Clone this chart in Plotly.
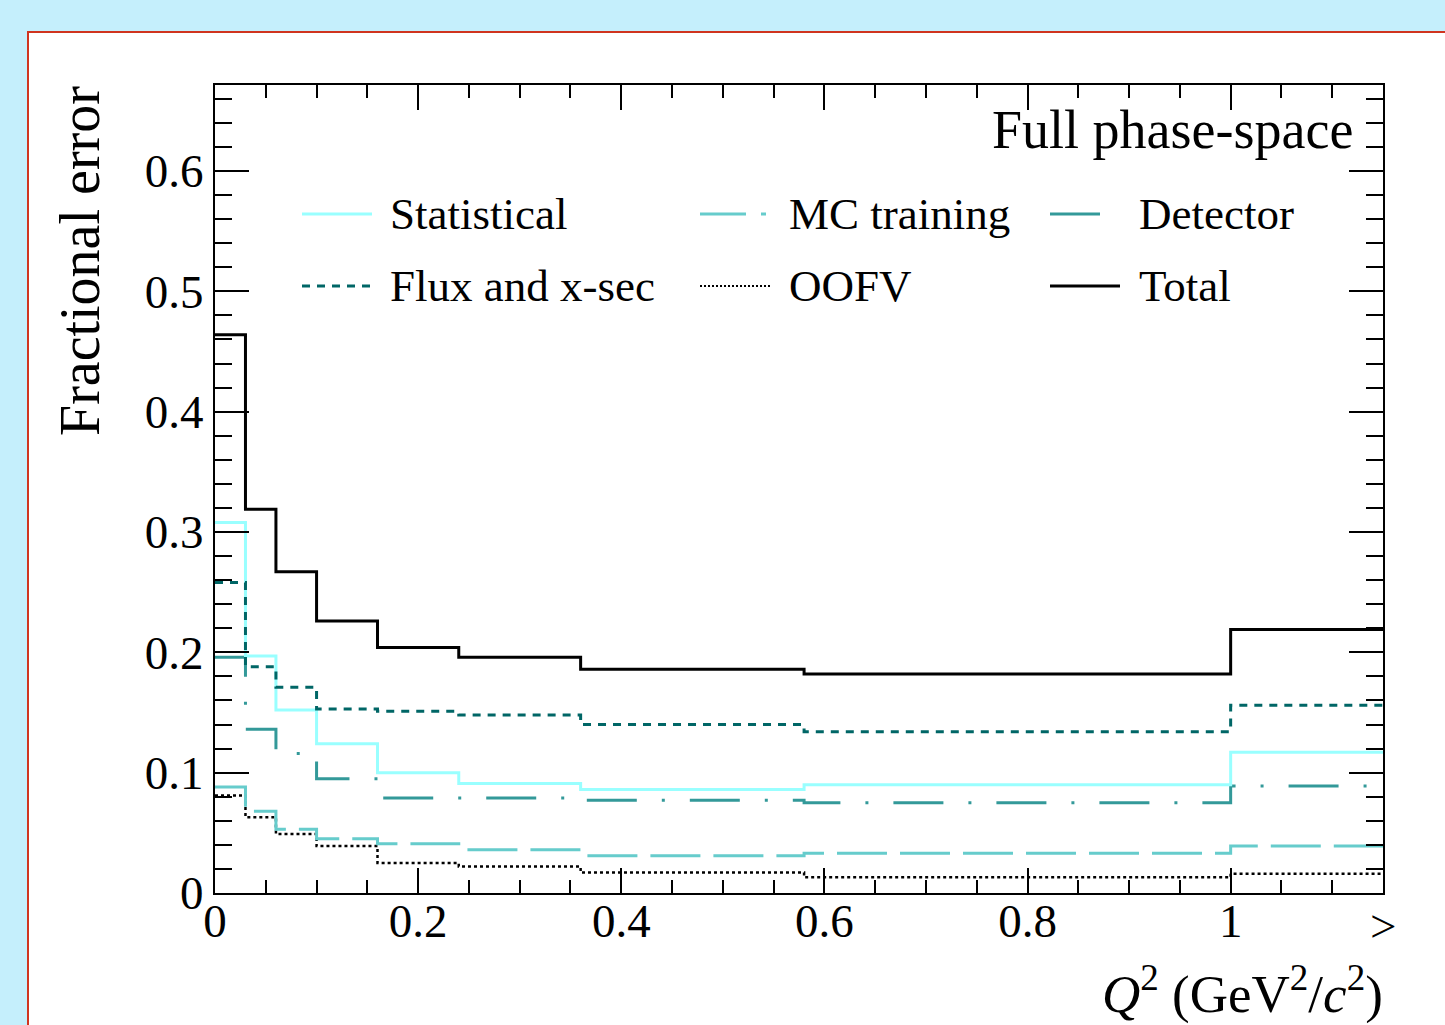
import plotly.graph_objects as go

# ---- data ----
bin_edges = [0.0, 0.03, 0.06, 0.10, 0.16, 0.24, 0.36, 0.58, 1.00, 1.15]
total       = [0.464, 0.319, 0.267, 0.226, 0.204, 0.196, 0.186, 0.182, 0.219]
statistical = [0.308, 0.197, 0.152, 0.124, 0.100, 0.091, 0.086, 0.090, 0.117]
flux_xsec   = [0.258, 0.188, 0.171, 0.153, 0.151, 0.148, 0.140, 0.134, 0.156]
detector    = [0.196, 0.136, 0.116, 0.095, 0.079, 0.079, 0.077, 0.075, 0.089]
mc_training = [0.088, 0.068, 0.053, 0.045, 0.041, 0.036, 0.031, 0.033, 0.039]
oofv        = [0.081, 0.063, 0.049, 0.039, 0.025, 0.022, 0.017, 0.013, 0.016]

legend_labels = ["Statistical", "MC training", "Detector", "Flux and x-sec", "OOFV", "Total"]

FONT = "Liberation Serif"

# plot-area pixel geometry
L, R, T, B = 215, 1383, 85, 893
W, H = 1445, 1025
def px(x):
    return (x - L) / (R - L)
def py(y):
    return (B - y) / (B - T)

fig = go.Figure()

def step(vals, color, width, dash):
    fig.add_trace(go.Scatter(
        x=bin_edges, y=vals + [vals[-1]], mode="lines", line_shape="hv",
        line=dict(color=color, width=width, dash=dash), showlegend=False,
        hoverinfo="skip"))

step(oofv, "black", 2.5, "3px,3px")
step(mc_training, "#66cccc", 3, "50px,13px")
step(detector, "#339999", 3, "50px,25px,3px,25px")
step(statistical, "#99ffff", 3, "solid")
step(flux_xsec, "#006666", 3, "8px,7px")
step(total, "black", 3, "solid")

shapes = []
# white canvas with red border
shapes.append(dict(type="rect", xref="paper", yref="paper", layer="below",
                   x0=px(28), x1=px(1500), y0=py(32), y1=py(1100),
                   fillcolor="white", line=dict(color="#d0341f", width=2)))

# custom legend
leg_rows = [214, 286]
leg_cols = [(302, 372, 388), (700, 770, 787), (1050, 1120, 1137)]
styles = [
    dict(color="#99ffff", width=3, dash="solid"),
    dict(color="#66cccc", width=3, dash="46px,15px,5px,20px"),
    dict(color="#339999", width=3, dash="solid"),
    dict(color="#006666", width=3, dash="8px,7px"),
    dict(color="black", width=2, dash="2px,2px"),
    dict(color="black", width=3, dash="solid"),
]
annotations = []
for i, lab in enumerate(legend_labels):
    r, c = divmod(i, 3)
    x0, x1, xt = leg_cols[c]
    if i == 2:
        x1 = 1100
    yy = leg_rows[r]
    shapes.append(dict(type="line", xref="paper", yref="paper",
                       x0=px(x0), x1=px(x1), y0=py(yy), y1=py(yy), line=styles[i]))
    annotations.append(dict(text=lab, xref="paper", yref="paper", x=px(xt), y=py(yy),
                            xanchor="left", yanchor="middle", showarrow=False,
                            font=dict(family=FONT, size=45, color="black")))

annotations += [
    dict(text="Full phase-space", xref="paper", yref="paper", x=px(1355), y=py(130),
         xanchor="right", yanchor="middle", showarrow=False,
         font=dict(family=FONT, size=54, color="black")),
    dict(text="Fractional error", xref="paper", yref="paper", x=px(80), y=py(84),
         xanchor="center", yanchor="top", textangle=-90, showarrow=False,
         font=dict(family=FONT, size=56, color="black")),
    dict(text="<i>Q</i><sup>2</sup> (GeV<sup>2</sup>/<i>c</i><sup>2</sup>)",
         xref="paper", yref="paper", x=px(1385), y=py(990),
         xanchor="right", yanchor="middle", showarrow=False,
         font=dict(family=FONT, size=53, color="black")),
    dict(text="&gt;", xref="paper", yref="paper", x=px(1383), y=py(926),
         xanchor="center", yanchor="middle", showarrow=False,
         font=dict(family=FONT, size=47, color="black")),
]

fig.update_layout(
    width=W, height=H,
    margin=dict(l=L, r=W - R, t=T, b=H - B, pad=0),
    paper_bgcolor="#c5effc", plot_bgcolor="white",
    shapes=shapes, annotations=annotations, showlegend=False,
    font=dict(family=FONT, size=47, color="black"),
)
fig.update_xaxes(
    range=[0, 1.15], tickmode="linear", tick0=0, dtick=0.2,
    ticks="inside", ticklen=25, tickwidth=1.5, tickcolor="black",
    minor=dict(ticks="inside", dtick=0.05, tick0=0, ticklen=13, tickwidth=1.5, tickcolor="black"),
    showline=True, linecolor="black", linewidth=2, mirror="allticks",
    showgrid=False, zeroline=False, tickfont=dict(family=FONT, size=47),
    ticklabelstandoff=-14,
)
fig.update_yaxes(
    range=[0, 0.6715], tickmode="linear", tick0=0, dtick=0.1,
    ticks="inside", ticklen=34, tickwidth=1.5, tickcolor="black",
    minor=dict(ticks="inside", dtick=0.02, tick0=0, ticklen=17, tickwidth=1.5, tickcolor="black"),
    showline=True, linecolor="black", linewidth=2, mirror="allticks",
    showgrid=False, zeroline=False, tickfont=dict(family=FONT, size=47),
)

fig.write_html("out.html")
